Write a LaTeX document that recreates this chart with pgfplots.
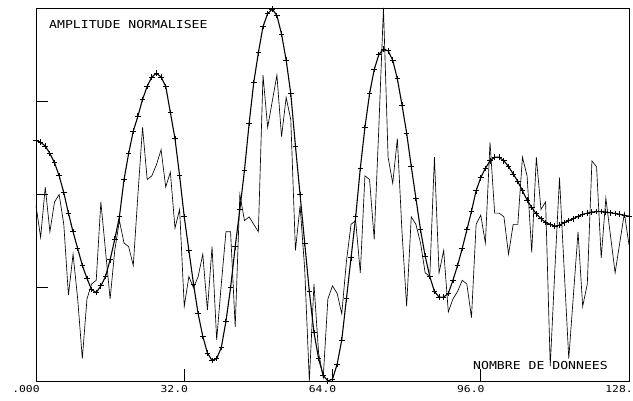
\documentclass[border=0pt]{standalone}
\usepackage{fontspec}
\usepackage{pgfplots}
\pgfplotsset{compat=1.18}
\usepackage{pgfplotstable}
\newfontfamily\plotfont[FakeStretch=1.2]{DejaVu Sans Mono}
\pgfplotstableread{
x y
0 0.645
1 0.64
2 0.63
3 0.61
4 0.585
5 0.55
6 0.505
7 0.45
8 0.40
9 0.355
10 0.31
11 0.275
12 0.245
13 0.237
14 0.255
15 0.28
16 0.325
17 0.38
18 0.44
19 0.54
20 0.61
21 0.67
22 0.71
23 0.755
24 0.79
25 0.815
26 0.825
27 0.815
28 0.79
29 0.72
30 0.65
31 0.55
32 0.44
33 0.35
34 0.26
35 0.18
36 0.12
37 0.075
38 0.055
39 0.06
40 0.09
41 0.16
42 0.25
43 0.36
44 0.46
45 0.565
46 0.69
47 0.80
48 0.88
49 0.95
50 0.985
51 0.997
52 0.98
53 0.93
54 0.86
55 0.77
56 0.63
57 0.50
58 0.37
59 0.24
60 0.13
61 0.06
62 0.015
63 0.0
64 0.005
65 0.045
66 0.11
67 0.22
68 0.33
69 0.44
70 0.57
71 0.68
72 0.77
73 0.835
74 0.875
75 0.89
76 0.885
77 0.86
78 0.81
79 0.74
80 0.665
81 0.575
82 0.49
83 0.405
84 0.335
85 0.28
86 0.24
87 0.225
88 0.225
89 0.235
90 0.27
91 0.31
92 0.355
93 0.405
94 0.455
95 0.51
96 0.545
97 0.57
98 0.59
99 0.60
100 0.60
101 0.59
102 0.575
103 0.555
104 0.535
105 0.51
106 0.485
107 0.465
108 0.448
109 0.435
110 0.425
111 0.42
112 0.415
113 0.418
114 0.424
115 0.43
116 0.435
117 0.441
118 0.447
119 0.45
120 0.453
121 0.454
122 0.454
123 0.453
124 0.451
125 0.449
126 0.447
127 0.444
128 0.442
}\smoothdata
\pgfplotstableread{
x y
0 0.47
1 0.385
2 0.52
3 0.40
4 0.48
5 0.50
6 0.42
7 0.23
8 0.34
9 0.22
10 0.06
11 0.22
12 0.26
13 0.27
14 0.48
15 0.35
16 0.22
17 0.35
18 0.43
19 0.37
20 0.36
21 0.31
22 0.50
23 0.68
24 0.54
25 0.55
26 0.58
27 0.62
28 0.52
29 0.56
30 0.41
31 0.46
32 0.20
33 0.28
34 0.25
35 0.28
36 0.34
37 0.19
38 0.36
39 0.11
40 0.26
41 0.40
42 0.40
43 0.145
44 0.50
45 0.43
46 0.44
47 0.42
48 0.40
49 0.82
50 0.68
51 0.75
52 0.82
53 0.655
54 0.76
55 0.70
56 0.35
57 0.47
58 0.30
59 0.0
60 0.26
61 0.075
62 0.01
63 0.22
64 0.255
65 0.235
66 0.18
67 0.32
68 0.42
69 0.43
70 0.29
71 0.55
72 0.54
73 0.38
74 0.68
75 1.0
76 0.60
77 0.53
78 0.65
79 0.40
80 0.20
81 0.44
82 0.42
83 0.37
84 0.29
85 0.28
86 0.60
87 0.29
88 0.35
89 0.185
90 0.22
91 0.24
92 0.27
93 0.26
94 0.17
95 0.42
96 0.445
97 0.37
98 0.64
99 0.45
100 0.45
101 0.44
102 0.34
103 0.42
104 0.42
105 0.60
106 0.55
107 0.345
108 0.60
109 0.46
110 0.48
111 0.04
112 0.30
113 0.545
114 0.30
115 0.06
116 0.23
117 0.40
118 0.20
119 0.26
120 0.59
121 0.574
122 0.33
123 0.49
124 0.39
125 0.29
126 0.37
127 0.45
128 0.365
}\noisydata
\begin{document}
\begin{tikzpicture}
\useasboundingbox (0,0) rectangle (633bp,401bp);
\begin{axis}[
  at={(36bp,20bp)}, anchor=south west,
  width=593bp, height=373bp, scale only axis,
  xmin=0, xmax=128, ymin=0, ymax=1,
  xtick={0,32,64,96,128},
  xticklabels={{.000},{32.0},{64.0},{96.0},{128.}},
  ytick={0.25,0.5,0.75}, yticklabels={},
  xtick pos=bottom, ytick pos=left, tick align=inside,
  major tick length=12bp,
  tick style={black, line width=0.8pt},
  axis line style={black, line width=0.9pt},
  xticklabel style={font=\plotfont\fontsize{9.5}{10}\selectfont, xshift=-10bp, yshift=-1bp},
  clip=false,
]
\addplot[black, line width=0.65pt, mark=none] table {\noisydata};
\addplot[black, line width=1.1pt, mark=+, mark size=2.8bp, mark options={line width=0.9pt}] table {\smoothdata};
\end{axis}
\node[anchor=west, inner sep=0pt, font=\plotfont\fontsize{11}{11}\selectfont] at (49bp,376bp) {AMPLITUDE NORMALISEE};
\node[anchor=west, inner sep=0pt, font=\plotfont\fontsize{11}{11}\selectfont] at (473bp,35bp) {NOMBRE DE DONNEES};
\end{tikzpicture}
\end{document}
